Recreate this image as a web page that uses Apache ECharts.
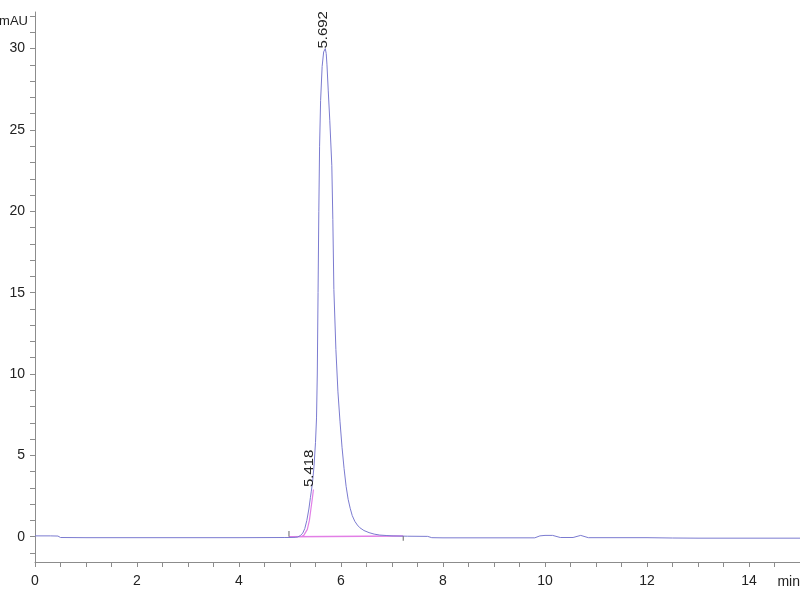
<!DOCTYPE html>
<html><head><meta charset="utf-8">
<script src="https://cdn.jsdelivr.net/npm/echarts@6/dist/echarts.min.js"></script>
<style>html,body{margin:0;padding:0;background:#fff}#c{width:800px;height:600px}</style>
</head><body><div id="c"></div>
<script>
// ---- data ----
const traceTime = [0, 0.3, 0.45, 0.5, 1, 2, 3, 4, 4.9, 5.0, 5.1, 5.15, 5.2, 5.25, 5.29, 5.33, 5.37, 5.40, 5.418, 5.44, 5.47, 5.50, 5.52, 5.535, 5.55, 5.565, 5.58, 5.60, 5.63, 5.66, 5.692, 5.71, 5.725, 5.75, 5.78, 5.80, 5.82, 5.84, 5.86, 5.90, 5.94, 5.98, 6.02, 6.06, 6.10, 6.14, 6.18, 6.22, 6.27, 6.32, 6.37, 6.45, 6.55, 6.65, 6.76, 6.9, 7.0, 7.3, 7.7, 7.78, 8, 9, 9.8, 9.9, 10.0, 10.15, 10.3, 10.55, 10.7, 10.85, 12, 12.5, 13, 14, 15];
const traceSignal = [0.05, 0.05, 0.04, -0.05, -0.06, -0.06, -0.06, -0.06, -0.05, -0.05, -0.04, -0.02, 0.06, 0.22, 0.5, 1.0, 1.7, 2.4, 2.8, 3.3, 4.3, 5.8, 7.3, 10, 15, 20, 24, 26.8, 28.9, 29.8, 30.0, 29.7, 29.0, 27.4, 25.6, 24.2, 22.8, 19.5, 15.2, 11.5, 8.9, 7.1, 5.5, 4.2, 3.1, 2.3, 1.75, 1.3, 0.95, 0.72, 0.55, 0.38, 0.25, 0.16, 0.1, 0.07, 0.05, 0.03, 0.02, -0.06, -0.07, -0.07, -0.07, 0.05, 0.08, 0.08, -0.05, -0.05, 0.08, -0.06, -0.06, -0.08, -0.09, -0.09, -0.09];

const shoulderTime = [5.23, 5.27, 5.3, 5.34, 5.38, 5.41, 5.44, 5.46];
const shoulderSignal = [0.02, 0.08, 0.15, 0.45, 1.0, 1.7, 2.4, 2.9];

const baselineTime = [4.98, 7.22];
const baselineSignal = [0.0, 0.05];

const markerStartTime = [4.98, 4.98];
const markerStartSignal = [0.0, 0.35];
const markerEndTime = [7.22, 7.22];
const markerEndSignal = [0.03, -0.25];

const peakTime = [5.692, 5.418];
const peakApex = [30.0, 3.05];
const peakLabel = ['5.692', '5.418'];

const xTickValues = [0, 0.5, 1, 1.5, 2, 2.5, 3, 3.5, 4, 4.5, 5, 5.5, 6, 6.5, 7, 7.5, 8, 8.5, 9, 9.5, 10, 10.5, 11, 11.5, 12, 12.5, 13, 13.5, 14, 14.5];
const xLabelValues = [0, 2, 4, 6, 8, 10, 12, 14];
const yTickValues = [-1, 0, 1, 2, 3, 4, 5, 6, 7, 8, 9, 10, 11, 12, 13, 14, 15, 16, 17, 18, 19, 20, 21, 22, 23, 24, 25, 26, 27, 28, 29, 30, 31, 32];
const yLabelValues = [0, 5, 10, 15, 20, 25, 30];

// ---- chart ----
const zip = (a, b) => a.map((t, i) => [t, b[i]]);
const FONT = '"Liberation Sans Narrow","Liberation Sans",Arial,sans-serif';
const AXIS = '#8c8c8c';
const TXT = '#222';
const chart = echarts.init(document.getElementById('c'), null, {renderer: 'canvas'});
chart.setOption({
  animation: false,
  backgroundColor: '#ffffff',
  grid: {left: 35, right: 0, top: 12, bottom: 38, containLabel: false, outerBoundsMode: 'none'},
  xAxis: {
    type: 'value', min: 0, max: 15,
    name: 'min', nameLocation: 'end', nameGap: 0,
    nameTextStyle: {align: 'right', verticalAlign: 'top', padding: [13, 0, 0, 0], fontFamily: FONT, fontSize: 14, color: TXT},
    axisLine: {onZero: false, lineStyle: {color: AXIS, width: 1}},
    axisTick: {show: true, length: 5, lineStyle: {color: AXIS}, customValues: xTickValues},
    axisLabel: {customValues: xLabelValues, margin: 12, fontFamily: FONT, fontSize: 14, color: TXT},
    splitLine: {show: false}
  },
  yAxis: {
    type: 'value', min: -1.555, max: 32.25,
    name: 'mAU', nameLocation: 'end', nameGap: 0,
    nameTextStyle: {align: 'right', verticalAlign: 'top', padding: [3, 7, 0, 0], fontFamily: FONT, fontSize: 13, color: TXT},
    axisLine: {show: true, onZero: false, lineStyle: {color: AXIS, width: 1}},
    axisTick: {show: true, length: 5, lineStyle: {color: AXIS}, customValues: yTickValues},
    axisLabel: {customValues: yLabelValues, margin: 10, fontFamily: FONT, fontSize: 14, color: TXT},
    splitLine: {show: false}
  },
  series: [
    {type: 'line', data: zip(baselineTime, baselineSignal), showSymbol: false, lineStyle: {color: '#e27fe6', width: 1.5}, z: 2},
    {type: 'line', data: zip(shoulderTime, shoulderSignal), showSymbol: false, lineStyle: {color: '#e27fe6', width: 1.2}, z: 2},
    {type: 'line', data: zip(traceTime, traceSignal), showSymbol: false, lineStyle: {color: '#7b7bd0', width: 1}, z: 3},
    {type: 'line', data: zip(markerStartTime, markerStartSignal), showSymbol: false, lineStyle: {color: '#666', width: 1}, z: 4},
    {type: 'line', data: zip(markerEndTime, markerEndSignal), showSymbol: false, lineStyle: {color: '#666', width: 1}, z: 4}
  ]
});

const pts = peakTime.map((t, i) => chart.convertToPixel({gridIndex: 0}, [t, peakApex[i]]));
chart.setOption({
  graphic: pts.map((p, i) => ({
    type: 'text', x: p[0] - 1.5, y: p[1], rotation: Math.PI / 2, scaleX: 1.25, z: 10,
    style: {text: peakLabel[i], font: '12px "Liberation Sans", Arial, sans-serif', fill: TXT, align: 'left', verticalAlign: 'middle'}
  }))
});
</script>
</body></html>
